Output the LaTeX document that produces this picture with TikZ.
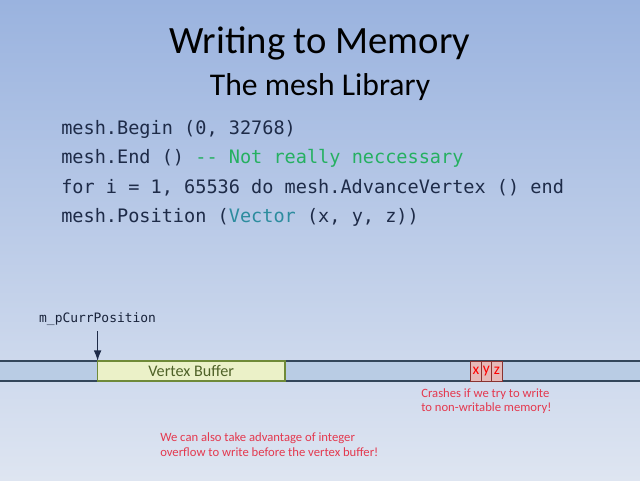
\documentclass[tikz,border=0pt]{standalone}
\usepackage{fontspec}
\setmainfont{Carlito}
\newfontfamily\codefont{DejaVu Sans Mono}
\usetikzlibrary{positioning}
\usetikzlibrary{arrows.meta}

\definecolor{bgtop}{HTML}{9AB3DF}
\definecolor{bgbot}{HTML}{DEE5F1}
\definecolor{codeink}{HTML}{1E2B48}
\definecolor{commentgreen}{HTML}{25B061}
\definecolor{typeteal}{HTML}{2C8C9E}
\definecolor{memfill}{HTML}{B9CCE4}
\definecolor{memline}{HTML}{33465A}
\definecolor{vbfill}{HTML}{EBF1C8}
\definecolor{vbline}{HTML}{6F8A38}
\definecolor{vbtext}{HTML}{4F6228}
\definecolor{cellfill}{HTML}{E6B9B8}
\definecolor{cellline}{HTML}{8A3230}
\definecolor{warnred}{HTML}{E4394F}

\tikzset{
  codeline/.style={anchor=west, inner sep=0pt, text=codeink, font=\codefont\fontsize{13.2}{15}\selectfont},
  membox/.style={minimum height=0.5cm, inner sep=0pt, outer sep=0pt},
  cell/.style={membox, draw=cellline, semithick, fill=cellfill, minimum width=0.26cm, text=red, font=\fontsize{11}{12}\selectfont},
  note/.style={anchor=north west, inner sep=0pt, align=left, text=warnred, font=\fontsize{9}{10.6}\selectfont}
}

\begin{document}
\begin{tikzpicture}[>={Latex[length=7.5pt,width=5.5pt]}]
\useasboundingbox (0,0) rectangle (16,12);
\shade[top color=bgtop, bottom color=bgbot] (0,0) rectangle (16,12);

% title
\node (title) at (8,10.92) {\fontsize{27.5}{30}\selectfont Writing to Memory};
\node (subtitle) at (8,9.82) {\fontsize{22.5}{25}\selectfont The mesh Library};

% code
\node[codeline] (l1) at (1.525,8.775) {mesh.Begin (0, 32768)};
\node[codeline] (l2) at (1.525,8.05) {mesh.End () \textcolor{commentgreen}{-- Not really neccessary}};
\node[codeline] (l3) at (1.525,7.3) {for i = 1, 65536 do mesh.AdvanceVertex () end};
\node[codeline] (l4) at (1.525,6.575) {mesh.Position (\textcolor{typeteal}{Vector} (x, y, z))};

% memory strip
\node[membox, fill=memfill, minimum width=16cm] (mem) at (8,2.725) {};
\draw[memline, line width=1.3pt] (mem.north west) -- (mem.north east);
\draw[memline, line width=1.3pt] (mem.south west) -- (mem.south east);

\node[membox, draw=vbline, line width=1.2pt, fill=vbfill, minimum width=4.68cm, text=vbtext,
  font=\fontsize{11.5}{13}\selectfont] (vbuf) at (4.78,2.725) {Vertex Buffer};

\node[cell] (cx) at (11.9,2.725) {x};
\node[cell, right=0pt of cx] (cy) {y};
\node[cell, right=0pt of cy] (cz) {z};

% pointer
\node[above=0.88cm of vbuf.north west, inner sep=0pt, text=codeink!80!black,
  font=\codefont\fontsize{9.2}{11}\selectfont] (ptr) {m\_pCurrPosition};
\draw[->, line width=1.1pt, codeink, shorten <=4pt] (ptr.south) -- (vbuf.north west);

% notes
\node[note] (crash) at (10.525,2.3) {Crashes if we try to write\\to non-writable memory!};
\node[note] (wrap) at (4.0,1.19) {We can also take advantage of integer\\overflow to write before the vertex buffer!};

\end{tikzpicture}
\end{document}
